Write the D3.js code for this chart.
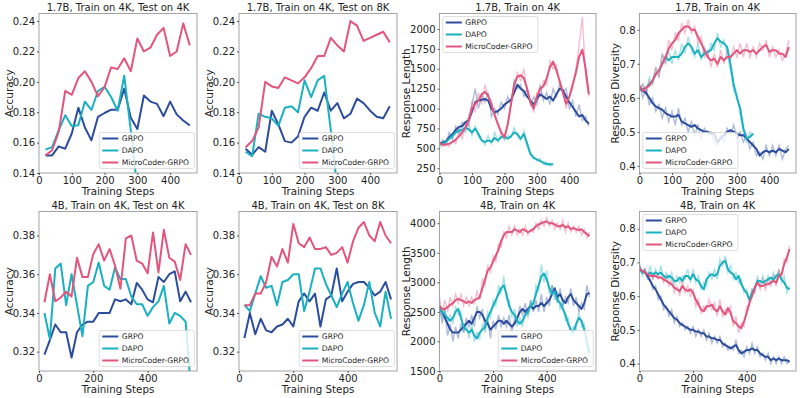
<!DOCTYPE html>
<html lang="en">
<head>
<meta charset="UTF-8">
<title>MicroCoder-GRPO curves</title>
<style>
  body { margin: 0; background: #fff; }
  svg { display: block; font-family: "DejaVu Sans", sans-serif; }
</style>
</head>
<body>
<script src="https://cdn.jsdelivr.net/npm/d3@7"></script>
<script>
// ---- data ----
const methods = ['GRPO', 'DAPO', 'MicroCoder-GRPO'];

// accuracy evaluations
const accSteps17 = [20,40,60,80,100,120,140,160,180,200,220,240,260,280,300,320,340,360,380,400,420,440,460];
const accStepsDapo17 = [20,40,60,80,100,120,140,160,180,200,220,240,260,280,300];
const accSteps4B = [20,40,60,80,100,120,140,160,180,200,220,240,260,280,300,320,340,360,380,400,420,440,460,480,500,520,540,560];

const acc17_4k_grpo  = [0.1516,0.1516,0.1575,0.156,0.166,0.183,0.170,0.1615,0.177,0.1795,0.1817,0.1817,0.1955,0.1764,0.169,0.191,0.187,0.1855,0.1774,0.187,0.1786,0.1746,0.1713];
const acc17_4k_dapo  = [0.1555,0.157,0.168,0.178,0.171,0.1715,0.187,0.1815,0.194,0.1968,0.19,0.181,0.204,0.168,0.13];
const acc17_4k_micro = [0.1516,0.155,0.167,0.194,0.1915,0.2025,0.207,0.2,0.1905,0.1965,0.2095,0.2085,0.2155,0.207,0.2285,0.22,0.2225,0.231,0.2355,0.217,0.22,0.2385,0.224];

const acc17_8k_grpo  = [0.156,0.152,0.157,0.154,0.181,0.172,0.161,0.16,0.164,0.177,0.183,0.181,0.193,0.181,0.186,0.176,0.179,0.189,0.186,0.181,0.177,0.176,0.184];
const acc17_8k_dapo  = [0.154,0.151,0.179,0.177,0.176,0.171,0.183,0.184,0.18,0.201,0.19,0.201,0.204,0.168,0.13];
const acc17_8k_micro = [0.157,0.161,0.17,0.2,0.197,0.196,0.203,0.201,0.199,0.203,0.209,0.217,0.217,0.229,0.224,0.22,0.24,0.237,0.227,0.229,0.231,0.233,0.226];

const acc4_4k_grpo  = [0.3185,0.326,0.334,0.330,0.330,0.317,0.330,0.334,0.3355,0.3355,0.340,0.340,0.340,0.347,0.346,0.347,0.3445,0.3555,0.352,0.347,0.3455,0.3585,0.356,0.360,0.3615,0.346,0.351,0.3455];
const acc4_4k_dapo  = [0.340,0.3265,0.363,0.3655,0.344,0.360,0.344,0.328,0.354,0.356,0.366,0.354,0.352,0.3635,0.3575,0.3575,0.3485,0.3445,0.3445,0.3385,0.343,0.346,0.354,0.3345,0.340,0.3385,0.3355,0.300];
const acc4_4k_micro = [0.3455,0.360,0.346,0.348,0.351,0.3485,0.3685,0.3585,0.3585,0.3705,0.3755,0.367,0.373,0.3645,0.3525,0.3785,0.380,0.367,0.3655,0.3605,0.3815,0.361,0.383,0.3685,0.3665,0.357,0.3755,0.370];

const acc4_8k_grpo  = [0.327,0.340,0.329,0.337,0.331,0.330,0.333,0.334,0.337,0.333,0.346,0.350,0.346,0.350,0.333,0.347,0.349,0.363,0.346,0.351,0.355,0.356,0.356,0.353,0.349,0.351,0.356,0.347];
const acc4_8k_dapo  = [0.344,0.341,0.350,0.359,0.353,0.354,0.344,0.356,0.357,0.360,0.360,0.341,0.351,0.363,0.363,0.355,0.349,0.343,0.350,0.356,0.345,0.336,0.344,0.356,0.340,0.333,0.351,0.337];
const acc4_8k_micro = [0.344,0.344,0.350,0.350,0.356,0.369,0.364,0.373,0.366,0.386,0.376,0.374,0.379,0.373,0.373,0.374,0.370,0.371,0.374,0.366,0.377,0.384,0.387,0.380,0.377,0.387,0.380,0.376];

// training curves (raw = faint, smooth = bold)
const steps17 = [0,10,20,30,40,50,60,70,80,90,100,110,120,130,140,150,160,170,180,190,200,210,220,230,240,250,260,270,280,290,300,310,320,330,340,350,360,370,380,390,400,410,420,430,440,450,460];
const stepsDapo17 = [0,10,20,30,40,50,60,70,80,90,100,110,120,130,140,150,160,170,180,190,200,210,220,230,240,250,260,270,280,290,300,310,320,330,340,350];
const steps4B = [0,10,20,30,40,50,60,70,80,90,100,110,120,130,140,150,160,170,180,190,200,210,220,230,240,250,260,270,280,290,300,310,320,330,340,350,360,370,380,390,400,410,420,430,440,450,460,470,480,490,500,510,520,530,540,550,560];

const len17_grpo_raw    = [540,600,560,700,620,780,720,830,800,900,1050,1250,1000,1180,1080,1200,900,1000,930,1080,1000,1150,1050,1350,1250,1300,1150,1250,1050,1150,1050,1300,1100,1200,1050,1250,1150,1300,1200,1250,1000,1100,900,1050,850,900,780];
const len17_grpo_smooth = [560,570,590,640,680,730,770,780,830,850,960,1080,1100,1110,1120,1100,1000,950,970,1000,1050,1080,1110,1200,1300,1250,1220,1150,1100,1050,1120,1180,1150,1120,1150,1100,1180,1250,1230,1150,1080,1020,960,900,920,850,810];
const len17_dapo_raw    = [500,600,560,650,620,740,680,780,700,820,660,780,640,600,540,660,560,700,580,700,600,660,640,760,650,600,720,520,430,400,340,370,300,330,280,300];
const len17_dapo_smooth = [550,560,580,620,660,700,720,730,760,740,700,750,680,600,580,600,580,630,600,640,650,620,650,700,680,620,680,560,430,380,360,340,320,300,300,300];
const len17_micro_raw    = [600,520,580,520,600,560,720,620,800,780,1100,950,1200,1050,1300,1150,1100,900,820,700,620,800,1050,1300,1450,1350,1500,1200,1100,950,1200,1150,1350,1300,1600,1500,1550,1300,1250,1000,1150,1250,1500,1800,2150,1400,1150];
const len17_micro_smooth = [570,545,545,560,580,610,650,700,760,850,1000,1060,1100,1180,1210,1160,1050,920,800,700,640,800,1050,1300,1400,1420,1380,1250,1080,1000,1150,1250,1280,1380,1520,1590,1480,1350,1200,1060,1150,1300,1450,1650,1740,1500,1180];

const div17_grpo_raw    = [0.64,0.60,0.63,0.58,0.60,0.56,0.58,0.54,0.57,0.53,0.56,0.52,0.57,0.52,0.54,0.50,0.53,0.49,0.52,0.48,0.51,0.49,0.50,0.47,0.46,0.49,0.47,0.51,0.49,0.52,0.48,0.50,0.47,0.49,0.45,0.47,0.43,0.44,0.42,0.46,0.43,0.46,0.43,0.46,0.42,0.45,0.46];
const div17_grpo_smooth = [0.63,0.62,0.615,0.60,0.585,0.575,0.57,0.565,0.555,0.55,0.545,0.545,0.55,0.53,0.525,0.52,0.515,0.52,0.51,0.505,0.50,0.50,0.495,0.495,0.47,0.48,0.49,0.50,0.505,0.50,0.495,0.49,0.49,0.48,0.47,0.46,0.45,0.43,0.44,0.445,0.44,0.445,0.44,0.45,0.445,0.44,0.45];
const div17_dapo_raw    = [0.62,0.64,0.61,0.66,0.64,0.69,0.66,0.73,0.70,0.74,0.70,0.74,0.71,0.76,0.73,0.78,0.74,0.72,0.76,0.71,0.75,0.72,0.76,0.74,0.79,0.75,0.77,0.73,0.68,0.62,0.61,0.55,0.50,0.47,0.50,0.49];
const div17_dapo_smooth = [0.63,0.625,0.63,0.64,0.65,0.67,0.68,0.70,0.72,0.71,0.72,0.72,0.72,0.73,0.75,0.76,0.75,0.73,0.74,0.72,0.73,0.735,0.74,0.76,0.775,0.765,0.76,0.75,0.70,0.64,0.60,0.57,0.51,0.48,0.485,0.495];
const div17_micro_raw    = [0.62,0.64,0.61,0.65,0.64,0.69,0.66,0.73,0.70,0.77,0.74,0.79,0.77,0.82,0.79,0.83,0.79,0.81,0.76,0.78,0.72,0.74,0.69,0.73,0.69,0.74,0.70,0.74,0.71,0.75,0.72,0.76,0.72,0.76,0.72,0.75,0.72,0.76,0.74,0.77,0.72,0.75,0.72,0.74,0.71,0.73,0.77];
const div17_micro_smooth = [0.635,0.62,0.63,0.635,0.65,0.67,0.68,0.70,0.72,0.745,0.76,0.77,0.79,0.80,0.81,0.81,0.80,0.80,0.78,0.76,0.74,0.72,0.71,0.715,0.70,0.72,0.71,0.72,0.72,0.73,0.74,0.73,0.74,0.74,0.735,0.74,0.73,0.74,0.75,0.755,0.735,0.74,0.74,0.73,0.73,0.72,0.75];

const len4_grpo_raw    = [2600,2300,2550,2100,2300,2000,2250,2050,2300,2150,2400,2250,2450,2250,2600,2400,2550,2200,2400,2050,2350,2200,2450,2250,2400,2250,2450,2150,2400,2350,2600,2450,2650,2450,2700,2500,2700,2500,2800,2500,2750,2600,2950,2800,2650,2900,2600,2750,2650,2900,2600,2750,2500,2650,2550,2950,2750];
const len4_grpo_smooth = [2550,2500,2400,2300,2200,2150,2150,2150,2200,2250,2300,2350,2300,2400,2500,2500,2450,2350,2300,2200,2250,2300,2350,2350,2300,2350,2300,2250,2300,2400,2500,2550,2500,2550,2600,2550,2600,2600,2650,2600,2650,2700,2800,2900,2750,2800,2700,2650,2750,2800,2700,2650,2600,2550,2650,2800,2820];
const len4_dapo_raw    = [2600,2400,2550,2300,2450,2300,2600,2450,2500,2150,2300,2050,2300,2000,2150,2050,2300,2150,2500,2400,2700,2600,2950,2800,3100,2700,2700,2400,2550,2250,2400,2250,2550,2400,2700,2550,2950,2850,3300,3000,3200,2800,2950,2700,2850,2550,2650,2350,2400,2100,2250,2200,2500,2250,2300,1850,1750];
const len4_dapo_smooth = [2550,2500,2450,2400,2350,2400,2500,2550,2400,2250,2200,2150,2200,2100,2050,2150,2200,2250,2400,2500,2600,2700,2800,2900,2950,2800,2600,2500,2450,2350,2300,2350,2450,2500,2600,2650,2800,2950,3100,3150,3050,2900,2800,2850,2700,2650,2550,2450,2300,2200,2150,2300,2400,2350,2200,2000,1800];
const len4_micro_raw    = [2750,2450,2700,2500,2750,2600,2800,2650,2800,2600,2750,2600,2750,2650,2850,2700,3050,2950,3300,3150,3450,3350,3650,3600,3850,3750,3950,3800,3950,3800,3900,3800,3950,3800,3900,3850,4000,3900,4050,3950,4100,3950,4050,3900,4000,3900,4050,3850,4000,3850,3950,3850,3950,3800,3900,3750,3850];
const len4_micro_smooth = [2600,2550,2550,2580,2620,2650,2700,2720,2700,2680,2650,2680,2650,2700,2720,2750,2900,3050,3200,3250,3350,3450,3550,3700,3800,3850,3850,3850,3900,3880,3850,3900,3880,3850,3870,3900,3950,3980,4000,4020,4030,4000,4000,3980,3950,3950,3970,3930,3950,3900,3920,3900,3880,3900,3850,3820,3780];

const div4_grpo_raw    = [0.69,0.67,0.68,0.65,0.65,0.62,0.63,0.59,0.60,0.56,0.57,0.54,0.56,0.52,0.54,0.51,0.52,0.50,0.51,0.49,0.51,0.48,0.50,0.48,0.50,0.47,0.49,0.46,0.48,0.46,0.48,0.45,0.46,0.44,0.45,0.44,0.47,0.43,0.44,0.42,0.45,0.43,0.46,0.43,0.45,0.42,0.43,0.41,0.43,0.40,0.42,0.40,0.42,0.40,0.42,0.40,0.41];
const div4_grpo_smooth = [0.68,0.675,0.67,0.66,0.645,0.63,0.62,0.605,0.59,0.575,0.565,0.555,0.545,0.535,0.53,0.52,0.515,0.51,0.505,0.50,0.50,0.495,0.495,0.49,0.49,0.48,0.48,0.475,0.475,0.47,0.47,0.46,0.455,0.45,0.445,0.45,0.455,0.44,0.43,0.435,0.44,0.44,0.445,0.44,0.44,0.43,0.425,0.42,0.42,0.41,0.415,0.41,0.415,0.41,0.41,0.41,0.405];
const div4_dapo_raw    = [0.70,0.66,0.68,0.66,0.69,0.65,0.68,0.66,0.69,0.65,0.67,0.65,0.67,0.63,0.66,0.64,0.66,0.65,0.68,0.64,0.68,0.64,0.66,0.62,0.64,0.63,0.67,0.65,0.68,0.65,0.71,0.69,0.72,0.67,0.69,0.65,0.67,0.64,0.65,0.61,0.62,0.58,0.62,0.61,0.66,0.63,0.66,0.63,0.66,0.64,0.67,0.65,0.68,0.64,0.66,0.61,0.63];
const div4_dapo_smooth = [0.68,0.67,0.67,0.665,0.67,0.665,0.67,0.665,0.67,0.66,0.655,0.66,0.655,0.645,0.645,0.655,0.645,0.66,0.66,0.65,0.665,0.65,0.645,0.63,0.62,0.65,0.66,0.665,0.66,0.665,0.69,0.70,0.705,0.68,0.67,0.665,0.65,0.66,0.635,0.62,0.61,0.59,0.61,0.625,0.645,0.645,0.64,0.645,0.65,0.655,0.65,0.66,0.665,0.65,0.64,0.625,0.62];
const div4_micro_raw    = [0.69,0.67,0.68,0.66,0.67,0.65,0.67,0.65,0.66,0.64,0.66,0.63,0.65,0.61,0.63,0.60,0.65,0.61,0.63,0.60,0.62,0.57,0.59,0.55,0.57,0.56,0.59,0.56,0.58,0.54,0.59,0.54,0.56,0.55,0.57,0.51,0.54,0.49,0.52,0.51,0.57,0.57,0.62,0.61,0.65,0.62,0.65,0.62,0.65,0.63,0.66,0.63,0.68,0.65,0.71,0.70,0.75];
const div4_micro_smooth = [0.68,0.675,0.67,0.665,0.66,0.66,0.66,0.655,0.655,0.65,0.645,0.64,0.635,0.625,0.62,0.615,0.63,0.62,0.615,0.62,0.61,0.59,0.575,0.56,0.555,0.57,0.57,0.575,0.56,0.555,0.57,0.555,0.545,0.565,0.55,0.525,0.52,0.51,0.505,0.525,0.55,0.58,0.60,0.625,0.64,0.63,0.63,0.635,0.635,0.64,0.645,0.64,0.66,0.665,0.695,0.715,0.74];

// axis ticks
const xTicksTop = [0, 100, 200, 300, 400];
const xTicksBottom = [0, 200, 400];
const accTicksTop = [0.14, 0.16, 0.18, 0.20, 0.22, 0.24];
const accTicksBottom = [0.32, 0.34, 0.36, 0.38];
const lenTicksTop = [250, 500, 750, 1000, 1250, 1500, 1750, 2000];
const lenTicksBottom = [1500, 2000, 2500, 3000, 3500, 4000];
const divTicks = [0.4, 0.5, 0.6, 0.7, 0.8];

// ---- drawing ----
const colors = {'GRPO': '#2c4c9d', 'DAPO': '#19b1bf', 'MicroCoder-GRPO': '#e2557d'};
const W = 800, H = 398;
const svg = d3.select('body').append('svg').attr('width', W).attr('height', H);

const f2 = d3.format('.2f'), f1 = d3.format('.1f'), f0 = d3.format('d');

function ser(x, y, raw) { return {x, y, raw}; }

const panels = [
  {title: '1.7B, Train on 4K, Test on 4K', ylabel: 'Accuracy', box: [39, 13.5, 197, 173], labelOff: 30,
   xd: [0, 482], yd: [0.14, 0.245], xt: xTicksTop, yt: accTicksTop, fmt: f2, legend: 'br',
   series: [ser(accSteps17, acc17_4k_grpo), ser(accStepsDapo17, acc17_4k_dapo), ser(accSteps17, acc17_4k_micro)]},
  {title: '1.7B, Train on 4K, Test on 8K', ylabel: 'Accuracy', box: [239, 13.5, 397, 173], labelOff: 30,
   xd: [0, 482], yd: [0.14, 0.245], xt: xTicksTop, yt: accTicksTop, fmt: f2, legend: 'br',
   series: [ser(accSteps17, acc17_8k_grpo), ser(accStepsDapo17, acc17_8k_dapo), ser(accSteps17, acc17_8k_micro)]},
  {title: '1.7B, Train on 4K', ylabel: 'Response Length', box: [439.5, 13.5, 596, 173], labelOff: 34,
   xd: [0, 482], yd: [190, 2195], xt: xTicksTop, yt: lenTicksTop, fmt: f0, legend: 'tl',
   series: [ser(steps17, len17_grpo_smooth, len17_grpo_raw), ser(stepsDapo17, len17_dapo_smooth, len17_dapo_raw), ser(steps17, len17_micro_smooth, len17_micro_raw)]},
  {title: '1.7B, Train on 4K', ylabel: 'Response Diversity', box: [639.5, 13.5, 796, 173], labelOff: 25,
   xd: [0, 482], yd: [0.379, 0.848], xt: xTicksTop, yt: divTicks, fmt: f1, legend: 'bl',
   series: [ser(steps17, div17_grpo_smooth, div17_grpo_raw), ser(stepsDapo17, div17_dapo_smooth, div17_dapo_raw), ser(steps17, div17_micro_smooth, div17_micro_raw)]},
  {title: '4B, Train on 4K, Test on 4K', ylabel: 'Accuracy', box: [39, 211.5, 197, 371], labelOff: 30,
   xd: [0, 582], yd: [0.31, 0.3924], xt: xTicksBottom, yt: accTicksBottom, fmt: f2, legend: 'br',
   series: [ser(accSteps4B, acc4_4k_grpo), ser(accSteps4B, acc4_4k_dapo), ser(accSteps4B, acc4_4k_micro)]},
  {title: '4B, Train on 4K, Test on 8K', ylabel: 'Accuracy', box: [239, 211.5, 397, 371], labelOff: 30,
   xd: [0, 582], yd: [0.31, 0.3924], xt: xTicksBottom, yt: accTicksBottom, fmt: f2, legend: 'br',
   series: [ser(accSteps4B, acc4_8k_grpo), ser(accSteps4B, acc4_8k_dapo), ser(accSteps4B, acc4_8k_micro)]},
  {title: '4B, Train on 4K', ylabel: 'Response Length', box: [439.5, 211.5, 596, 371], labelOff: 34,
   xd: [0, 584], yd: [1500, 4199], xt: xTicksBottom, yt: lenTicksBottom, fmt: f0, legend: 'br',
   series: [ser(steps4B, len4_grpo_smooth, len4_grpo_raw), ser(steps4B, len4_dapo_smooth, len4_dapo_raw), ser(steps4B, len4_micro_smooth, len4_micro_raw)]},
  {title: '4B, Train on 4K', ylabel: 'Response Diversity', box: [639.5, 211.5, 796, 371], labelOff: 25,
   xd: [0, 584], yd: [0.378, 0.851], xt: xTicksBottom, yt: divTicks, fmt: f1, legend: 'tl',
   series: [ser(steps4B, div4_grpo_smooth, div4_grpo_raw), ser(steps4B, div4_dapo_smooth, div4_dapo_raw), ser(steps4B, div4_micro_smooth, div4_micro_raw)]},
];

panels.forEach((p, i) => {
  const [x0, y0, x1, y1] = p.box;
  const x = d3.scaleLinear().domain(p.xd).range([x0, x1]);
  const y = d3.scaleLinear().domain(p.yd).range([y1, y0]);
  const g = svg.append('g');

  const clipId = 'clip' + i;
  svg.append('clipPath').attr('id', clipId)
    .append('rect').attr('x', x0).attr('y', y0).attr('width', x1 - x0).attr('height', y1 - y0);

  const plot = g.append('g').attr('clip-path', `url(#${clipId})`);
  p.series.forEach((s, k) => {
    const c = colors[methods[k]];
    const line = d3.line().x((d, j) => x(s.x[j])).y(d => y(d));
    if (s.raw) {
      plot.append('path').datum(s.raw).attr('d', line)
        .attr('fill', 'none').attr('stroke', c).attr('stroke-width', 1.4).attr('stroke-opacity', 0.38);
    }
  });
  p.series.forEach((s, k) => {
    const c = colors[methods[k]];
    const line = d3.line().x((d, j) => x(s.x[j])).y(d => y(d));
    plot.append('path').datum(s.y).attr('d', line)
      .attr('fill', 'none').attr('stroke', c).attr('stroke-width', 2)
      .attr('stroke-linejoin', 'round');
  });

  // legend
  const lw = 95, lh = 36;
  let lx, ly;
  if (p.legend === 'br') { lx = x1 - 2.7 - lw; ly = y1 - 4.5 - lh; }
  else if (p.legend === 'bl') { lx = x0 + 3.3; ly = y1 - 4.5 - lh; }
  else { lx = x0 + 3.3; ly = y0 + 3; }
  const lg = g.append('g').attr('transform', `translate(${lx},${ly})`);
  lg.append('rect').attr('width', lw).attr('height', lh).attr('rx', 2)
    .attr('fill', '#fff').attr('fill-opacity', 0.8).attr('stroke', '#d0d0d0').attr('stroke-width', 0.7);
  methods.forEach((m, k) => {
    const yy = 6 + k * 12;
    lg.append('line').attr('x1', 3).attr('x2', 19).attr('y1', yy).attr('y2', yy)
      .attr('stroke', colors[m]).attr('stroke-width', 2);
    lg.append('text').attr('x', 22.5).attr('y', yy + 2.8).attr('font-size', 7.6).attr('fill', '#222').text(m);
  });

  // frame
  g.append('rect').attr('x', x0).attr('y', y0).attr('width', x1 - x0).attr('height', y1 - y0)
    .attr('fill', 'none').attr('stroke', '#9a9a9a').attr('stroke-width', 0.9);

  // axes
  const ax = g.append('g').attr('transform', `translate(0,${y1})`)
    .call(d3.axisBottom(x).tickValues(p.xt).tickSize(2).tickPadding(2).tickFormat(f0));
  const ay = g.append('g').attr('transform', `translate(${x0},0)`)
    .call(d3.axisLeft(y).tickValues(p.yt).tickSize(2).tickPadding(2).tickFormat(p.fmt));
  [ax, ay].forEach(a => {
    a.select('.domain').remove();
    a.selectAll('.tick line').attr('stroke', '#555');
    a.selectAll('.tick text').attr('font-size', 10).attr('fill', '#222').attr('font-family', '"DejaVu Sans", sans-serif');
  });

  // labels
  g.append('text').attr('x', (x0 + x1) / 2).attr('y', y0 - 3).attr('text-anchor', 'middle')
    .attr('font-size', 10).attr('fill', '#222').text(p.title);
  g.append('text').attr('x', (x0 + x1) / 2).attr('y', y1 + 22).attr('text-anchor', 'middle')
    .attr('font-size', 10.3).attr('fill', '#222').text('Training Steps');
  g.append('text').attr('transform', `translate(${x0 - p.labelOff + 4},${(y0 + y1) / 2}) rotate(-90)`)
    .attr('text-anchor', 'middle').attr('font-size', 10.5).attr('fill', '#222').text(p.ylabel);
});
</script>
</body>
</html>
